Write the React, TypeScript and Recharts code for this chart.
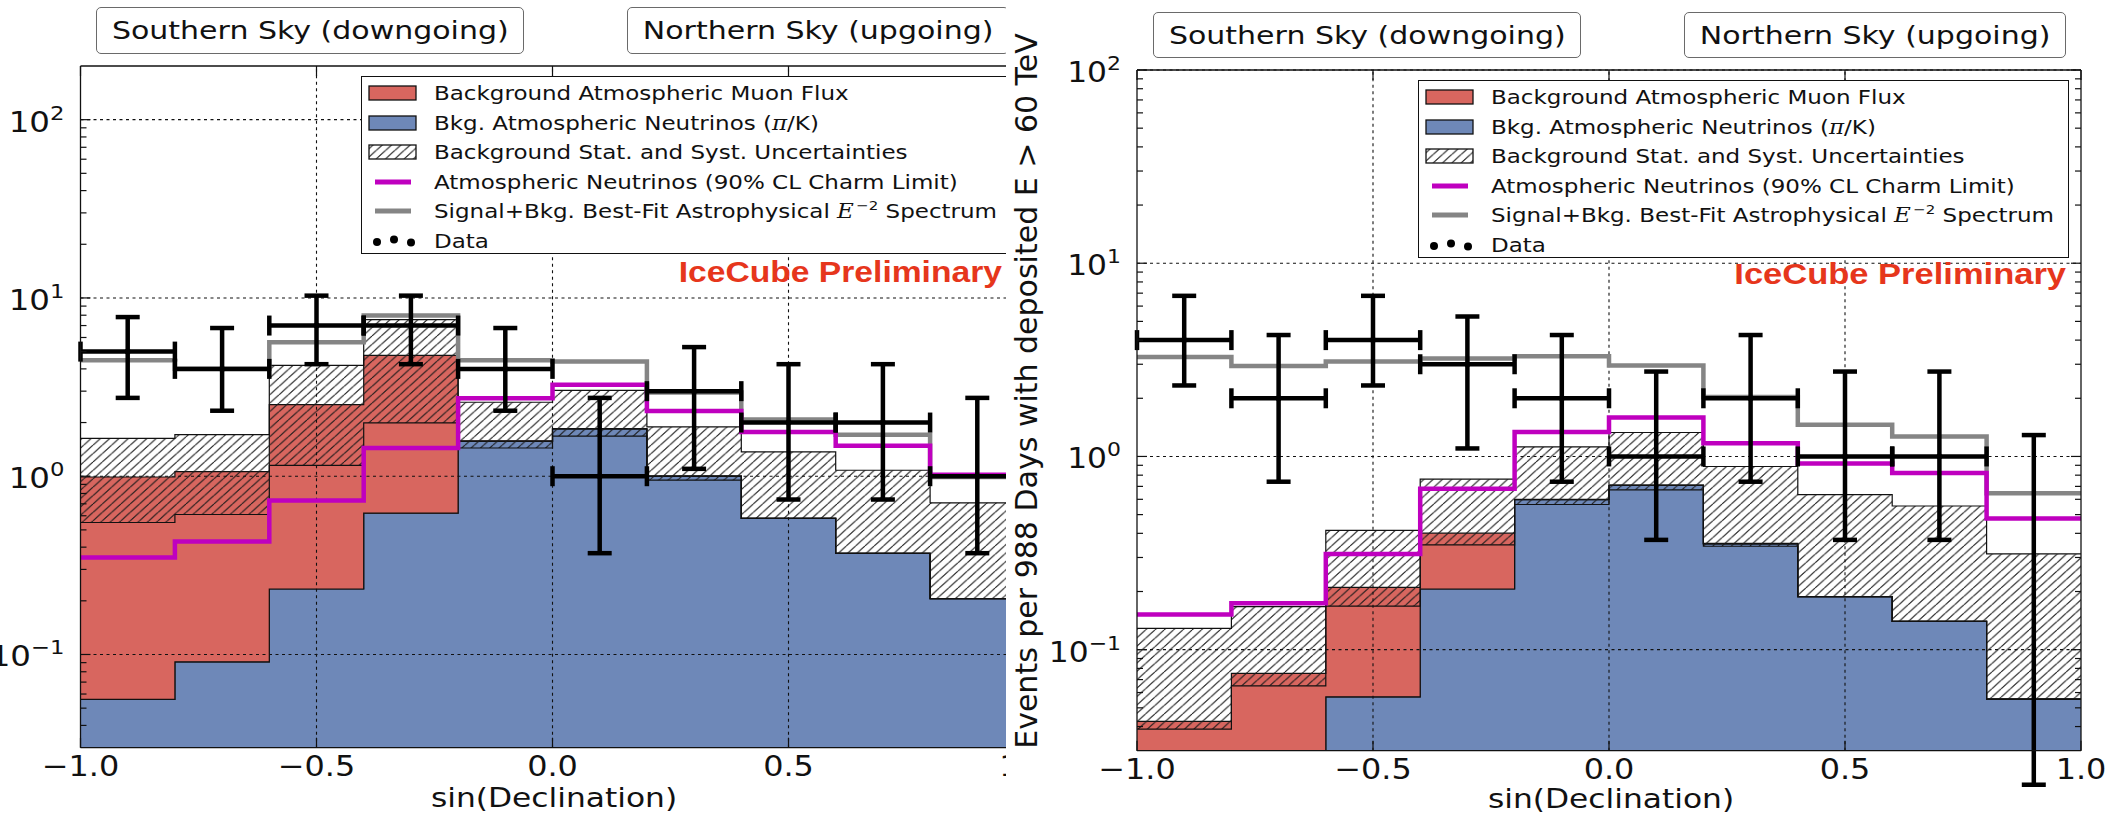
import React from 'react';
import {
  ComposedChart,
  Area,
  Line,
  Scatter,
  XAxis,
  YAxis,
  ErrorBar,
  ReferenceLine,
  Legend,
} from 'recharts';

const SANS = "'DejaVu Sans', 'Bitstream Vera Sans', sans-serif";
const SERIF = "'DejaVu Serif', serif";
const BOLD_SANS = "'Liberation Sans', Arial, sans-serif";
const INK = '#111111';

const MUON_COLOR = '#d8665f';
const NU_COLOR = '#6e88b8';
const CHARM_COLOR = '#bf00bf';
const FIT_COLOR = '#858585';
const PRELIM_COLOR = '#e6361c';

// sin(declination) binning
const binEdges = [-1.0, -0.8, -0.6, -0.4, -0.2, 0.0, 0.2, 0.4, 0.6, 0.8, 1.0];
const binCenters = [-0.9, -0.7, -0.5, -0.3, -0.1, 0.1, 0.3, 0.5, 0.7, 0.9];

const xTicks = [-1, -0.5, 0, 0.5, 1];
const xTickLabels = ['\u22121.0', '\u22120.5', '0.0', '0.5', '1.0'];
const yMajorTicks = [0.1, 1, 10, 100];
const yMajorExponents = ['\u22121', '0', '1', '2'];
const yMinorTicks = [
  0.04, 0.05, 0.06, 0.07, 0.08, 0.09,
  0.2, 0.3, 0.4, 0.5, 0.6, 0.7, 0.8, 0.9,
  2, 3, 4, 5, 6, 7, 8, 9,
  20, 30, 40, 50, 60, 70, 80, 90,
];
const xGridLines = [-0.5, 0, 0.5];

// fill baseline for the lowest stacked histogram (below the visible range)
const FILL_FLOOR = 0.001;

// ---- left plot: events per bin ----
const leftNu = [0.056, 0.091, 0.233, 0.62, 1.57, 1.84, 1.0, 0.58, 0.369, 0.206];
const leftBkgTotal = [0.99, 1.06, 2.52, 4.76, 1.58, 1.85, 1.0, 0.58, 0.369, 0.206];
const leftBandLow = [0.55, 0.61, 1.15, 1.99, 1.44, 1.68, 0.95, 0.58, 0.369, 0.206];
const leftBandHigh = [1.63, 1.71, 4.19, 7.55, 2.6, 3.03, 1.89, 1.37, 1.08, 0.709];
const leftCharm = [0.35, 0.43, 0.73, 1.44, 2.74, 3.26, 2.32, 1.77, 1.48, 1.02];
const leftBestFit = [4.47, 4.01, 5.65, 7.98, 4.47, 4.4, 2.95, 2.08, 1.71, 0.99];
const leftCounts = [5, 4, 7, 7, 4, 1, 3, 2, 2, 1];
const leftErrLow = [2.75, 2.33, 4.25, 4.25, 2.33, 0.37, 1.1, 0.74, 0.74, 0.37];
const leftErrHigh = [7.81, 6.78, 10.3, 10.3, 6.78, 2.75, 5.3, 4.25, 4.25, 2.75];

// ---- right plot: events per bin ----
const rightNu = [0.02, 0.025, 0.057, 0.206, 0.597, 0.708, 0.353, 0.188, 0.14, 0.0555];
const rightBkgTotal = [0.0425, 0.0754, 0.21, 0.401, 0.6, 0.71, 0.355, 0.188, 0.14, 0.0555];
const rightBandLow = [0.0388, 0.065, 0.168, 0.349, 0.564, 0.672, 0.343, 0.188, 0.14, 0.0555];
const rightBandHigh = [0.129, 0.167, 0.414, 0.763, 1.12, 1.33, 0.887, 0.635, 0.554, 0.313];
const rightCharm = [0.152, 0.174, 0.313, 0.68, 1.34, 1.59, 1.17, 0.92, 0.82, 0.478];
const rightBestFit = [3.27, 2.94, 3.1, 3.21, 3.3, 2.96, 2.03, 1.46, 1.27, 0.645];
const rightCounts = [4, 2, 4, 3, 2, 1, 2, 1, 1, 0];
const rightErrLow = [2.33, 0.74, 2.33, 1.1, 0.74, 0.37, 0.74, 0.37, 0.37, 0.02];
const rightErrHigh = [6.78, 4.25, 6.78, 5.3, 4.25, 2.75, 4.25, 2.75, 2.75, 1.29];

type Seg = { t: string; math?: boolean; sup?: boolean };
const legendEntries: Seg[][] = [
  [{ t: 'Background Atmospheric Muon Flux' }],
  [{ t: 'Bkg. Atmospheric Neutrinos (' }, { t: '\u03c0', math: true }, { t: '/K)' }],
  [{ t: 'Background Stat. and Syst. Uncertainties' }],
  [{ t: 'Atmospheric Neutrinos (90% CL Charm Limit)' }],
  [
    { t: 'Signal+Bkg. Best-Fit Astrophysical ' },
    { t: 'E', math: true },
    { t: '\u22122', sup: true },
    { t: ' Spectrum' },
  ],
  [{ t: 'Data' }],
];

const SOUTH_LABEL = 'Southern Sky (downgoing)';
const NORTH_LABEL = 'Northern Sky (upgoing)';
const PRELIM_LABEL = 'IceCube Preliminary';
const X_LABEL = 'sin(Declination)';
const Y_LABEL = 'Events per 988 Days with deposited E > 60 TeV';

type PanelData = {
  nu: number[];
  total: number[];
  lo: number[];
  hi: number[];
  charm: number[];
  fit: number[];
  counts: number[];
  errLo: number[];
  errHi: number[];
};

const leftData: PanelData = {
  nu: leftNu, total: leftBkgTotal, lo: leftBandLow, hi: leftBandHigh,
  charm: leftCharm, fit: leftBestFit, counts: leftCounts, errLo: leftErrLow, errHi: leftErrHigh,
};
const rightData: PanelData = {
  nu: rightNu, total: rightBkgTotal, lo: rightBandLow, hi: rightBandHigh,
  charm: rightCharm, fit: rightBestFit, counts: rightCounts, errLo: rightErrLow, errHi: rightErrHigh,
};

// step rows at bin edges; the last edge repeats the final bin
function buildSteps(p: PanelData) {
  return binEdges.map((x, i) => {
    const k = Math.min(i, binCenters.length - 1);
    return {
      x,
      nu: [FILL_FLOOR, p.nu[k]],
      muon: [p.nu[k], p.total[k]],
      band: [p.lo[k], p.hi[k]],
      charm: p.charm[k],
      fit: p.fit[k],
    };
  });
}

function buildPoints(p: PanelData) {
  return binCenters
    .map((x, i) => ({
      x,
      n: p.counts[i],
      ey: [p.counts[i] - p.errLo[i], p.errHi[i] - p.counts[i]],
      ex: (binEdges[i + 1] - binEdges[i]) / 2,
    }))
    .filter((d) => d.n > 0);
}

// bins with zero events: only an upper-limit bar
function buildEmpty(p: PanelData) {
  return binCenters
    .map((x, i) => ({
      x,
      n: p.counts[i],
      top: p.errHi[i],
      ey: [p.errHi[i] - p.errLo[i], 0],
    }))
    .filter((d) => d.n === 0);
}

const allYTicks = [...yMinorTicks, ...yMajorTicks].sort((a, b) => a - b);

const makeYTick = (side: 'left' | 'right', fontSize: number) => (props: any) => {
  const { x, y, payload } = props;
  const idx = yMajorTicks.indexOf(payload.value);
  const major = idx >= 0;
  const dir = side === 'left' ? 1 : -1;
  const len = major ? 10 : 6;
  return (
    <g>
      <line x1={x} x2={x + dir * len} y1={y} y2={y} stroke={INK} strokeWidth={1.2} />
      {major && side === 'left' && (
        <g transform={`translate(${x - 16},${y + 12}) scale(1.12,1)`}>
          <text textAnchor="end" fontFamily={SANS} fontSize={fontSize} fill={INK}>
            10
            <tspan dy={-12} fontSize={fontSize * 0.7}>
              {yMajorExponents[idx]}
            </tspan>
          </text>
        </g>
      )}
    </g>
  );
};

const makeXTick = (side: 'bottom' | 'top') => (props: any) => {
  const { x, y, payload } = props;
  const idx = xTicks.indexOf(payload.value);
  const dir = side === 'bottom' ? -1 : 1;
  return (
    <g>
      <line x1={x} x2={x} y1={y} y2={y + dir * 10} stroke={INK} strokeWidth={1.2} />
      {side === 'bottom' && idx >= 0 && (
        <g transform={`translate(${x},${y + 28}) scale(1.1,1)`}>
          <text textAnchor="middle" fontFamily={SANS} fontSize={29} fill={INK}>
            {xTickLabels[idx]}
          </text>
        </g>
      )}
    </g>
  );
};

function HatchPattern({ id }: { id: string }) {
  const w = 9.3;
  const h = 8.4;
  return (
    <pattern id={id} patternUnits="userSpaceOnUse" width={w} height={h}>
      <path
        d={`M0,${h} L${w},0 M${-w},${h} L0,0 M${w},${h} L${2 * w},0`}
        stroke="#1a1a1a"
        strokeWidth={1.1}
        fill="none"
      />
    </pattern>
  );
}

function LegendSwatch({ index, pid }: { index: number; pid: string }) {
  if (index === 0 || index === 1 || index === 2) {
    const fill = index === 0 ? MUON_COLOR : index === 1 ? NU_COLOR : `url(#${pid})`;
    return (
      <svg width={52} height={20} style={{ position: 'absolute', left: 5, top: -10 }}>
        <defs>
          <HatchPattern id={pid} />
        </defs>
        <rect x={2} y={3} width={47} height={14} fill={fill} stroke={INK} strokeWidth={1.3} />
      </svg>
    );
  }
  if (index === 3 || index === 4) {
    return (
      <svg width={52} height={20} style={{ position: 'absolute', left: 5, top: -10 }}>
        <line x1={8} x2={44} y1={10} y2={10} stroke={index === 3 ? CHARM_COLOR : FIT_COLOR} strokeWidth={5} />
      </svg>
    );
  }
  return (
    <svg width={52} height={20} style={{ position: 'absolute', left: 5, top: -10 }}>
      <circle cx={10} cy={11} r={4} fill="#000" />
      <circle cx={27} cy={8.5} r={4} fill="#000" />
      <circle cx={44} cy={11.5} r={4} fill="#000" />
    </svg>
  );
}

function LegendBox({ pid }: { pid: string }) {
  return (
    <div
      style={{
        position: 'relative',
        width: 651,
        height: 178,
        boxSizing: 'border-box',
        border: `1.3px solid ${INK}`,
        background: '#fff',
        fontFamily: SANS,
        color: INK,
      }}
    >
      {legendEntries.map((segs, i) => {
        const cy = 16 + i * 29.5;
        return (
          <div key={i} style={{ position: 'absolute', left: 0, top: cy, width: '100%', height: 0 }}>
            <LegendSwatch index={i} pid={pid} />
            <div
              style={{
                position: 'absolute',
                left: 72,
                top: -12,
                height: 24,
                lineHeight: '24px',
                fontSize: 20,
                whiteSpace: 'nowrap',
                transform: 'scaleX(1.15)',
                transformOrigin: 'left center',
              }}
            >
              {segs.map((s, j) =>
                s.math ? (
                  <span key={j} style={{ fontFamily: SERIF, fontStyle: 'italic' }}>
                    {s.t}
                  </span>
                ) : s.sup ? (
                  <span key={j} style={{ fontSize: 13, position: 'relative', top: -8, marginLeft: 2 }}>
                    {s.t}
                  </span>
                ) : (
                  <span key={j}>{s.t}</span>
                )
              )}
            </div>
          </div>
        );
      })}
    </div>
  );
}

function SkyBox({ left, top, width, height, label }: any) {
  return (
    <div
      style={{
        position: 'absolute',
        left,
        top,
        width,
        height,
        boxSizing: 'border-box',
        border: '1.6px solid #6a6a6a',
        borderRadius: 5,
        background: '#fff',
        display: 'flex',
        alignItems: 'center',
        justifyContent: 'center',
      }}
    >
      <span
        style={{
          fontFamily: SANS,
          fontSize: 25,
          color: INK,
          display: 'inline-block',
          transform: 'scaleX(1.2)',
          whiteSpace: 'nowrap',
        }}
      >
        {label}
      </span>
    </div>
  );
}

type PanelCfg = {
  id: string;
  data: PanelData;
  width: number;
  yMax: number;
  margin: { top: number; right: number; bottom: number; left: number };
  tickFont: number;
  legendLeft: number;
  legendTop: number;
};

// axes are 1px thick boxes; margins below already account for them
const AXIS_BOX = 1;

function HistogramPanel({ cfg }: { cfg: PanelCfg }) {
  const steps = buildSteps(cfg.data);
  const points = buildPoints(cfg.data);
  const empty = buildEmpty(cfg.data);
  const hatchId = `${cfg.id}-hatch`;
  const gridStyle = { stroke: INK, strokeWidth: 1.1, strokeDasharray: '3 3.5' };
  const axisLine = { stroke: INK, strokeWidth: 1.3 };
  const m = cfg.margin;
  const chartMargin = {
    top: m.top - AXIS_BOX,
    bottom: m.bottom - AXIS_BOX,
    left: m.left - AXIS_BOX,
    right: m.right - AXIS_BOX,
  };

  return (
    <ComposedChart width={cfg.width} height={813} data={steps} margin={chartMargin}>
      <defs>
        <HatchPattern id={hatchId} />
      </defs>

      <Area
        type="stepAfter"
        dataKey="nu"
        fill={NU_COLOR}
        fillOpacity={1}
        stroke={INK}
        strokeWidth={1.2}
        isAnimationActive={false}
      />
      <Area
        type="stepAfter"
        dataKey="muon"
        fill={MUON_COLOR}
        fillOpacity={1}
        stroke={INK}
        strokeWidth={1.2}
        isAnimationActive={false}
      />
      <Area
        type="stepAfter"
        dataKey="band"
        fill={`url(#${hatchId})`}
        fillOpacity={1}
        stroke={INK}
        strokeWidth={1.2}
        isAnimationActive={false}
      />

      {xGridLines.map((v) => (
        <ReferenceLine key={`gx${v}`} x={v} {...gridStyle} />
      ))}
      {yMajorTicks.map((v) => (
        <ReferenceLine key={`gy${v}`} y={v} {...gridStyle} />
      ))}

      <Line
        type="stepAfter"
        dataKey="fit"
        stroke={FIT_COLOR}
        strokeWidth={4.5}
        dot={false}
        isAnimationActive={false}
      />
      <Line
        type="stepAfter"
        dataKey="charm"
        stroke={CHARM_COLOR}
        strokeWidth={4.5}
        dot={false}
        isAnimationActive={false}
      />

      <Scatter
        data={points}
        dataKey="n"
        fill="#000"
        isAnimationActive={false}
        shape={(p: any) => <circle cx={p.cx} cy={p.cy} r={3} fill="#000" />}
      >
        <ErrorBar dataKey="ey" direction="y" width={12} stroke="#000" strokeWidth={4.5} />
        <ErrorBar dataKey="ex" direction="x" width={10} stroke="#000" strokeWidth={4.5} />
      </Scatter>
      <Scatter
        data={empty}
        dataKey="top"
        fill="#000"
        isAnimationActive={false}
        shape={() => <g />}
      >
        <ErrorBar dataKey="ey" direction="y" width={12} stroke="#000" strokeWidth={4.5} />
      </Scatter>

      <XAxis
        dataKey="x"
        type="number"
        domain={[-1, 1]}
        allowDataOverflow
        ticks={xTicks}
        interval={0}
        height={AXIS_BOX}
        tickSize={0}
        tickMargin={0}
        tickLine={false}
        axisLine={axisLine}
        tick={makeXTick('bottom')}
      />
      <XAxis
        xAxisId="top"
        orientation="top"
        dataKey="x"
        type="number"
        domain={[-1, 1]}
        allowDataOverflow
        ticks={xTicks}
        interval={0}
        height={AXIS_BOX}
        tickSize={0}
        tickMargin={0}
        tickLine={false}
        axisLine={axisLine}
        tick={makeXTick('top')}
      />
      <YAxis
        type="number"
        scale="log"
        domain={[0.03, cfg.yMax]}
        allowDataOverflow
        ticks={allYTicks}
        interval={0}
        width={AXIS_BOX}
        tickSize={0}
        tickMargin={0}
        tickLine={false}
        axisLine={axisLine}
        tick={makeYTick('left', cfg.tickFont)}
      />
      <YAxis
        yAxisId="right"
        orientation="right"
        type="number"
        scale="log"
        domain={[0.03, cfg.yMax]}
        allowDataOverflow
        ticks={allYTicks}
        interval={0}
        width={AXIS_BOX}
        tickSize={0}
        tickMargin={0}
        tickLine={false}
        axisLine={axisLine}
        tick={makeYTick('right', cfg.tickFont)}
      />

      <Legend
        layout="horizontal"
        verticalAlign="middle"
        align="center"
        wrapperStyle={{ left: cfg.legendLeft, top: cfg.legendTop, width: 651, height: 178 }}
        content={() => <LegendBox pid={`${cfg.id}-legend-hatch`} />}
      />
    </ComposedChart>
  );
}

const leftCfg: PanelCfg = {
  id: 'left',
  data: leftData,
  width: 1100,
  yMax: 200,
  margin: { top: 66, right: 75.5, bottom: 65.3, left: 80.5 },
  tickFont: 29,
  legendLeft: 361,
  legendTop: 76,
};

const rightCfg: PanelCfg = {
  id: 'right',
  data: rightData,
  width: 1108,
  yMax: 100,
  margin: { top: 70, right: 33, bottom: 62.3, left: 131 },
  tickFont: 28,
  legendLeft: 412,
  legendTop: 80,
};

function StretchedText({ x, y, sx, anchor, size, family, weight, fill, children }: any) {
  return (
    <g transform={`translate(${x},${y}) scale(${sx},1)`}>
      <text textAnchor={anchor} fontFamily={family} fontSize={size} fontWeight={weight} fill={fill}>
        {children}
      </text>
    </g>
  );
}

export default function App() {
  return (
    <div
      style={{
        position: 'absolute',
        left: 0,
        top: 0,
        width: 2114,
        height: 813,
        background: '#fff',
        overflow: 'hidden',
      }}
    >
      {/* left figure, trimmed on its right side */}
      <div style={{ position: 'absolute', left: 0, top: 0, width: 1006, height: 813, overflow: 'hidden' }}>
        <div style={{ position: 'absolute', left: 0, top: 0 }}>
          <HistogramPanel cfg={leftCfg} />
        </div>
        <SkyBox left={96} top={7} width={428} height={47} label={SOUTH_LABEL} />
        <SkyBox left={627} top={7} width={382} height={47} label={NORTH_LABEL} />
        <svg style={{ position: 'absolute', left: 0, top: 0, pointerEvents: 'none' }} width={1006} height={813}>
          <StretchedText x={1002} y={282} sx={1.16} anchor="end" size={29} family={BOLD_SANS} weight="bold" fill={PRELIM_COLOR}>
            {PRELIM_LABEL}
          </StretchedText>
          <StretchedText x={554} y={806.5} sx={1.16} anchor="middle" size={27} family={SANS} fill={INK}>
            {X_LABEL}
          </StretchedText>
        </svg>
      </div>

      {/* right figure */}
      <div
        style={{
          position: 'absolute',
          left: 1006,
          top: 0,
          width: 1108,
          height: 813,
          overflow: 'hidden',
          background: '#fff',
        }}
      >
        <div style={{ position: 'absolute', left: 0, top: 0 }}>
          <HistogramPanel cfg={rightCfg} />
        </div>
        <SkyBox left={147} top={12} width={428} height={46} label={SOUTH_LABEL} />
        <SkyBox left={678} top={12} width={382} height={46} label={NORTH_LABEL} />
        <svg style={{ position: 'absolute', left: 0, top: 0, pointerEvents: 'none' }} width={1108} height={813}>
          <StretchedText x={1060} y={283.5} sx={1.19} anchor="end" size={29} family={BOLD_SANS} weight="bold" fill={PRELIM_COLOR}>
            {PRELIM_LABEL}
          </StretchedText>
          <StretchedText x={605} y={808} sx={1.16} anchor="middle" size={27} family={SANS} fill={INK}>
            {X_LABEL}
          </StretchedText>
          <g transform="translate(31,391) rotate(-90)">
            <text textAnchor="middle" fontFamily={SANS} fontSize={30} fill={INK}>
              {Y_LABEL}
            </text>
          </g>
        </svg>
      </div>
    </div>
  );
}
